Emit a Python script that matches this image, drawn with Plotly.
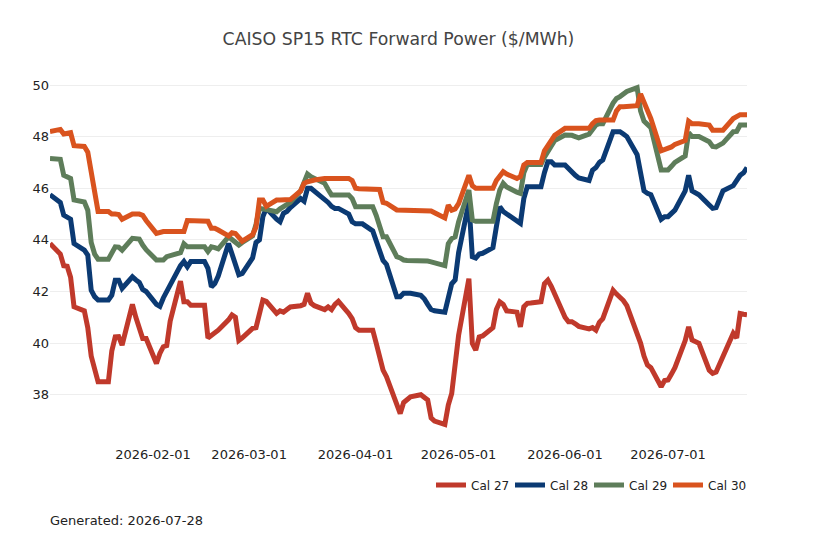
import pandas as pd
import plotly.graph_objects as go

# Business-day trading dates (Jan 2 - Jul 24, 2026)
dates = pd.bdate_range("2026-01-02", "2026-07-24")

cal27 = [
    # Jan
    43.86, 43.45, 43.0, 42.98, 42.55, 41.41, 41.25, 40.6, 39.5, 38.95, 38.5,
    38.5, 39.7, 40.24, 40.25, 39.92, 41.5, 41.0, 40.6, 40.18, 40.18,
    # Feb
    39.21, 39.6, 39.86, 39.9, 40.85, 42.4, 41.6, 41.6, 41.47, 41.47, 41.47,
    40.2, 40.3, 40.4, 40.5, 40.9, 41.09, 41.0, 40.1, 40.2,
    # Mar
    40.57, 40.6, 41.15, 41.67, 41.62, 41.15, 41.25, 41.2, 41.3, 41.4, 41.45,
    41.5, 41.93, 41.55, 41.45, 41.3, 41.4, 41.3, 41.5, 41.62, 41.15, 40.95,
    # Apr
    40.6, 40.5, 40.5, 40.5, 40.0, 39.4, 38.95, 38.7, 37.6, 37.27, 37.7,
    37.8, 37.92, 38.0, 37.9, 37.8, 37.1, 36.98, 36.85, 37.6, 38.05, 39.0,
    # May
    40.3, 42.5, 39.99, 39.73, 40.24, 40.28, 40.6, 41.3, 41.6, 41.5, 41.25,
    41.2, 40.63, 41.41, 41.54, 41.55, 41.6, 42.3, 42.44, 42.2, 41.9,
    # Jun
    41.0, 40.83, 40.83, 40.75, 40.65, 40.55, 40.6, 40.5, 40.8, 40.95, 42.05,
    41.9, 41.8, 41.65, 41.45, 40.4, 40.0, 39.5, 39.15, 39.05, 38.31, 38.55,
    # Jul
    38.57, 38.8, 39.05, 40.1, 40.63, 40.12, 40.05, 39.99, 38.95, 38.83, 38.88,
    39.2, 39.5, 40.38, 40.2, 41.15, 41.12, 41.1,
]

cal28 = [
    45.75, 45.45, 44.96, 44.85, 44.8, 43.86, 43.6, 43.41, 42.05, 41.8, 41.67,
    41.67, 41.86, 42.44, 42.44, 42.12, 42.57, 42.45, 42.35, 42.08, 42.0,
    41.5, 41.42, 41.75, 42.0, 42.3, 43.0, 43.16, 42.96, 43.16, 43.16, 43.16,
    42.9, 42.18, 42.31, 42.6, 43.86, 43.5, 43.1, 42.65, 42.7,
    43.3, 43.9, 44.0, 44.9, 45.22, 44.8, 44.7, 45.03, 45.1, 45.25, 45.6,
    45.5, 46.0, 46.0, 45.9, 45.6, 45.45, 45.3, 45.22, 45.22, 45.0, 44.7,
    44.62, 44.62, 44.62, 44.35, 44.0, 43.6, 43.2, 43.05, 41.8, 41.8, 41.93,
    41.93, 41.93, 41.85, 41.72, 41.5, 41.3, 41.25, 41.2, 41.75, 42.3, 42.45,
    43.5, 45.45, 43.35, 43.3, 43.45, 43.48, 43.7, 44.5, 45.28, 45.1, 45.0,
    44.7, 44.64, 45.6, 46.06, 46.06, 46.06, 46.6, 47.03, 47.03, 46.9,
    46.9, 46.75, 46.6, 46.5, 46.4, 46.3, 46.7, 46.8, 47.0, 47.1, 48.19,
    48.19, 48.19, 48.1, 48.0, 47.3, 46.7, 45.9, 45.8, 45.75, 44.8, 44.9,
    44.9, 45.0, 45.15, 45.9, 46.5, 45.9, 45.8, 45.75, 45.35, 45.22, 45.25,
    45.6, 45.9, 46.1, 46.3, 46.5, 46.6, 46.8,
]

cal29 = [
    47.15, 47.12, 46.5, 46.45, 46.38, 45.55, 45.47, 45.15, 43.9, 43.45, 43.25,
    43.25, 43.5, 43.73, 43.72, 43.6, 44.06, 44.06, 44.03, 43.8, 43.62,
    43.22, 43.22, 43.22, 43.35, 43.38, 43.5, 43.85, 43.73, 43.73, 43.73, 43.73,
    43.55, 43.73, 43.7, 43.65, 44.12, 44.0, 43.86, 43.8, 43.9,
    44.15, 44.6, 45.22, 45.2, 45.18, 45.09, 45.2, 45.3, 45.4, 45.45, 45.9,
    46.3, 46.55, 46.45, 46.38, 46.19, 45.95, 45.74, 45.74, 45.74, 45.74, 45.6,
    45.28, 45.28, 45.28, 45.28, 44.95, 44.5, 44.12, 44.12, 43.35, 43.3, 43.22,
    43.2, 43.2, 43.2, 43.2, 43.18, 43.15, 43.1, 43.0, 43.85, 44.05, 44.12,
    44.7, 45.93, 44.77, 44.72, 44.72, 44.72, 44.72, 45.4, 45.93, 46.19, 46.05,
    45.85, 45.8, 46.6, 46.92, 46.92, 46.92, 47.2, 47.42, 47.6, 47.85,
    48.06, 48.06, 48.05, 48.0, 47.95, 48.1, 48.25, 48.45, 48.5, 48.5, 49.3,
    49.48, 49.55, 49.68, 49.75, 49.9, 49.0, 48.6, 48.45, 48.35, 46.71, 46.71,
    46.71, 46.85, 47.0, 47.25, 48.15, 48.0, 48.0, 48.0, 47.8, 47.62, 47.6,
    47.65, 47.75, 48.19, 48.2, 48.45, 48.45, 48.45,
]

cal30 = [
    48.2, 48.28, 48.1, 48.12, 48.15, 47.65, 47.62, 47.4, 46.6, 45.8, 45.1,
    45.1, 45.0, 45.0, 44.98, 44.8, 45.0, 45.0, 45.0, 44.95, 44.75,
    44.25, 44.3, 44.32, 44.32, 44.32, 44.32, 44.32, 44.75, 44.75, 44.75, 44.75,
    44.72, 44.45, 44.45, 44.38, 44.15, 44.28, 44.25, 44.1, 43.95,
    44.2, 44.5, 45.54, 45.54, 45.3, 45.54, 45.54, 45.54, 45.54, 45.56, 45.9,
    46.19, 46.25, 46.3, 46.32, 46.38, 46.38, 46.38, 46.38, 46.38, 46.38, 46.3,
    46.0, 45.98, 45.98, 45.98, 45.98, 45.95, 45.45, 45.42, 45.16, 45.16, 45.16,
    45.16, 45.16, 45.15, 45.15, 45.15, 45.12, 45.05, 44.85, 45.35, 45.15, 45.2,
    45.4, 46.5, 46.1, 46.0, 46.0, 46.0, 46.0, 46.3, 46.5, 46.64, 46.55,
    46.38, 46.45, 46.9, 47.0, 47.0, 47.0, 47.45, 47.65, 47.9, 48.05,
    48.32, 48.32, 48.32, 48.32, 48.32, 48.32, 48.5, 48.62, 48.64, 48.64, 48.64,
    49.0, 49.16, 49.16, 49.16, 49.2, 49.65, 49.3, 49.0, 48.7, 47.45, 47.5,
    47.5, 47.6, 47.7, 47.85, 48.6, 48.5, 48.5, 48.5, 48.45, 48.25, 48.25,
    48.25, 48.25, 48.7, 48.8, 48.85, 48.85, 48.85,
]

series_names = ["Cal 27", "Cal 28", "Cal 29", "Cal 30"]
series_colors = ["#c0392b", "#0b3a73", "#5e7d5a", "#d9531e"]
series_values = [cal27, cal28, cal29, cal30]

fig = go.Figure()
for name, color, vals in zip(series_names, series_colors, series_values):
    fig.add_trace(go.Scatter(
        x=dates[:len(vals)], y=vals, mode="lines", name=name,
        line=dict(color=color, width=5),
    ))

fig.update_layout(
    width=818, height=545,
    font=dict(family="DejaVu Sans", size=13, color="#222"),
    title=dict(text="CAISO SP15 RTC Forward Power ($/MWh)", x=0.5, xanchor="center",
               xref="paper", y=1 - 31 / 545, yanchor="middle", yref="container",
               font=dict(size=17.3, color="#444")),
    margin=dict(l=42, r=79, t=61, b=110),
    paper_bgcolor="white", plot_bgcolor="white",
    xaxis=dict(range=["2026-01-02", "2026-07-24"], dtick="M1", tickformat="%Y-%m-%d",
               showgrid=False, zeroline=False, showline=False, ticks="",
               ticklabelstandoff=2),
    yaxis=dict(range=[36.13, 50.62], dtick=2, showgrid=True, gridcolor="#eeeeee",
               zeroline=False, showline=False, ticks=""),
    legend=dict(orientation="h", x=1, xanchor="right", y=-0.112, yanchor="middle",
                font=dict(size=12), bgcolor="rgba(0,0,0,0)",
                entrywidth=34, entrywidthmode="pixels"),
    annotations=[dict(text="Generated: 2026-07-28", xref="paper", yref="paper",
                      x=-2 / 697, xanchor="left", y=-0.206, yanchor="middle",
                      showarrow=False, font=dict(size=13, color="#222"))],
)

fig.write_html("out.html")
